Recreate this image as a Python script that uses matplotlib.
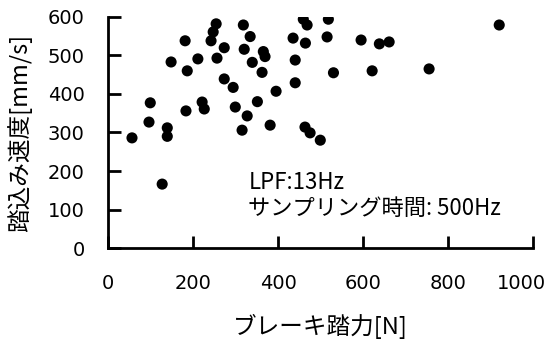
import numpy as np
import matplotlib.pyplot as plt
from matplotlib.transforms import ScaledTranslation

plt.rcParams['font.family'] = ['Noto Sans CJK JP', 'DejaVu Sans']

# brake pedal force [N] vs pedal speed [mm/s]
force = [56, 99, 96, 139, 139, 127, 183, 221, 226, 181,
         148, 186, 211, 254, 247, 242, 273, 256, 318, 334,
         320, 339, 365, 369, 362, 273, 294, 395, 440, 440,
         459, 468, 435, 464, 518, 515, 530, 299, 351, 327,
         381, 315, 463, 475, 499, 595, 638, 661, 621, 755,
         920]
speed = [286, 377, 327, 312, 290, 166, 356, 379, 361, 538,
         483, 460, 491, 582, 561, 538, 520, 493, 579, 549,
         516, 482, 510, 497, 456, 439, 417, 407, 488, 429,
         594, 579, 545, 532, 594, 548, 455, 366, 380, 343,
         319, 306, 314, 299, 280, 540, 530, 535, 460, 465,
         579]

xticks = [0, 200, 400, 600, 800, 1000]
yticks = [0, 100, 200, 300, 400, 500, 600]

fig = plt.figure(figsize=(5.52, 3.45), dpi=100)
ax = fig.add_axes([0.196, 0.281, 0.77, 0.670])

ax.scatter(force, speed, s=64, c='black', marker='o', edgecolors='none', zorder=3)

ax.set_xlim(0, 1000)
ax.set_ylim(0, 600)
ax.set_xticks(xticks)
ax.set_yticks(yticks)

for side in ['top', 'right']:
    ax.spines[side].set_visible(False)
for side in ['left', 'bottom']:
    ax.spines[side].set_linewidth(2)
    ax.spines[side].set_color('black')

ax.tick_params(axis='both', direction='in', length=9, width=2, labelsize=14)
ax.tick_params(axis='x', pad=19)
ax.tick_params(axis='y', pad=17)
for lab in ax.get_xticklabels() + ax.get_yticklabels():
    lab.set_fontfamily('DejaVu Sans')

# last x label sits a bit left so it stays inside the figure
last = ax.get_xticklabels()[-1]
last.set_transform(last.get_transform() + ScaledTranslation(-12 / 100, 0, fig.dpi_scale_trans))

ax.set_xlabel('ブレーキ踏力[N]', fontsize=17, labelpad=15)
ax.set_ylabel('踏込み速度[mm/s]', fontsize=17, labelpad=11)

ax.text(330, 169, 'LPF:13Hz', fontsize=16, va='center', ha='left')
ax.text(330, 104, 'サンプリング時間: 500Hz', fontsize=16, va='center', ha='left')

fig.savefig('out.png', dpi=100)
